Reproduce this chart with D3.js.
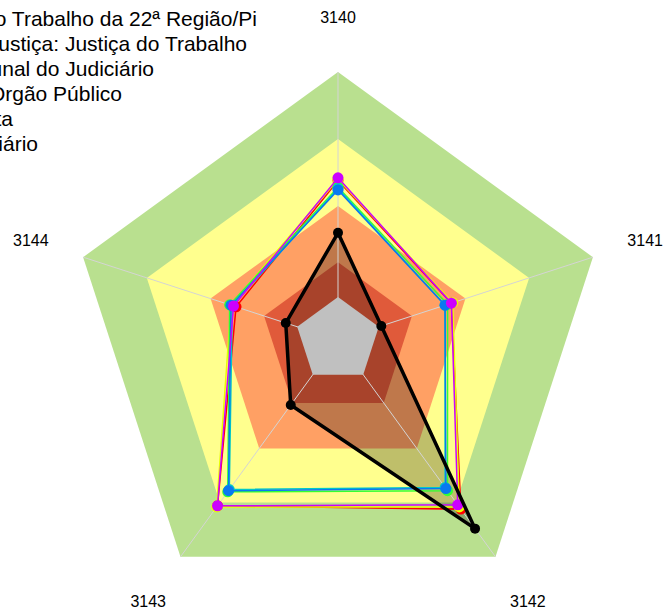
<!DOCTYPE html>
<html lang="pt">
<head>
<meta charset="utf-8">
<title>Radar 3140-3144</title>
<script src="https://d3js.org/d3.v7.min.js"></script>
<style>
  body { margin: 0; background: #fff; }
  svg { display: block; font-family: "Liberation Sans", Arial, sans-serif; }
</style>
</head>
<body>
<script>
// eixos do radar
const axes = ['3140', '3141', '3142', '3143', '3144']

// faixas de fundo (limite externo de cada faixa, escala 0-100)
const bandLimits = [100, 75, 50, 29, 16]
const bandColors = ['#b9e08f', '#ffff8e', '#ffa064', '#e05a3a', '#c0c0c0']

// series
const serieRed = [59.5, 44.5, 78, 76.5, 40]
const serieYellow = [60, 45, 77, 77, 42]
const serieGreen = [57, 43, 69.5, 70, 42.5]
const serieCyan = [56.5, 42, 68, 69, 41.5]
const serieBlue = [56, 42, 68.5, 69.5, 42]
const serieMagenta = [60.5, 44.5, 76, 76.5, 41]
const serieTribunal = [40, 17, 87, 30, 20.5]

const legendLabels = [
    'Tribunal Regional do Trabalho da 22ª Região/Pi',
    'Segmento de Justiça: Justiça do Trabalho',
    'Porte do Tribunal do Judiciário',
    'Média do Orgão Público',
    'Média da Administração Direta',
    'Média do Judiciário'
]
const legendEnds = [257, 247, 154, 122, 13, 38]

const m = { width: 664, height: 612 }
const cx = 338, cy = 340, R = 268

const svg = d3.select('body').append('svg')
    .attr('width', m.width)
    .attr('height', m.height)

const rScale = d3.scaleLinear().domain([0, 100]).range([0, R])
const angle = d3.scaleLinear().domain([0, axes.length]).range([0, 2 * Math.PI])

function pt(v, i) {
    const a = angle(i)
    return [cx + rScale(v) * Math.sin(a), cy - rScale(v) * Math.cos(a)]
}
function ring(v) {
    return axes.map((d, i) => pt(v, i))
}
const line = d3.line().curve(d3.curveLinearClosed)

// faixas
svg.append('g').selectAll('path')
    .data(bandLimits.slice(0, 4))
    .enter()
    .append('path')
    .attr('d', d => line(ring(d)))
    .attr('fill', (d, i) => bandColors[i])

// area sombreada do tribunal
svg.append('path')
    .attr('d', line(serieTribunal.map(pt)))
    .attr('fill', 'rgba(0,0,0,0.25)')

// raios
svg.append('g').selectAll('line')
    .data(axes)
    .enter()
    .append('line')
    .attr('x1', cx).attr('y1', cy)
    .attr('x2', (d, i) => pt(100, i)[0])
    .attr('y2', (d, i) => pt(100, i)[1])
    .attr('stroke', '#d4d4d4')
    .attr('stroke-width', 1)

// centro cinza
svg.append('path')
    .attr('d', line(ring(bandLimits[4])))
    .attr('fill', bandColors[4])

// rotulos dos eixos
svg.append('g').selectAll('text')
    .data(axes)
    .enter()
    .append('text')
    .attr('x', (d, i) => pt(120.5, i)[0])
    .attr('y', (d, i) => pt(120.5, i)[1])
    .attr('text-anchor', 'middle')
    .attr('dominant-baseline', 'central')
    .attr('font-size', 16)
    .attr('fill', '#000')
    .text(d => d)

// series coloridas
const series = [
    { values: serieRed, color: '#ff0000' },
    { values: serieYellow, color: '#e8ff00' },
    { values: serieGreen, color: '#33ff33' },
    { values: serieCyan, color: '#00c8c8' },
    { values: serieBlue, color: '#0a78f0' },
    { values: serieMagenta, color: '#cc00ff' }
]

series.forEach(function (s) {
    const g = svg.append('g')
    g.append('path')
        .attr('d', line(s.values.map(pt)))
        .attr('fill', 'none')
        .attr('stroke', s.color)
        .attr('stroke-width', 1.5)
    g.selectAll('circle')
        .data(s.values)
        .enter()
        .append('circle')
        .attr('cx', (d, i) => pt(d, i)[0])
        .attr('cy', (d, i) => pt(d, i)[1])
        .attr('r', 5.5)
        .attr('fill', s.color)
})

// serie do tribunal
const gt = svg.append('g')
gt.append('path')
    .attr('d', line(serieTribunal.map(pt)))
    .attr('fill', 'none')
    .attr('stroke', '#000')
    .attr('stroke-width', 3.5)
    .attr('stroke-linejoin', 'round')
gt.selectAll('circle')
    .data(serieTribunal)
    .enter()
    .append('circle')
    .attr('cx', (d, i) => pt(d, i)[0])
    .attr('cy', (d, i) => pt(d, i)[1])
    .attr('r', 5)
    .attr('fill', '#000')

// legenda (cortada na borda esquerda)
svg.append('g').selectAll('text')
    .data(legendLabels)
    .enter()
    .append('text')
    .attr('x', (d, i) => legendEnds[i])
    .attr('y', (d, i) => 26 + i * 25)
    .attr('text-anchor', 'end')
    .attr('font-size', 21)
    .attr('fill', '#000')
    .text(d => d)
</script>
</body>
</html>
